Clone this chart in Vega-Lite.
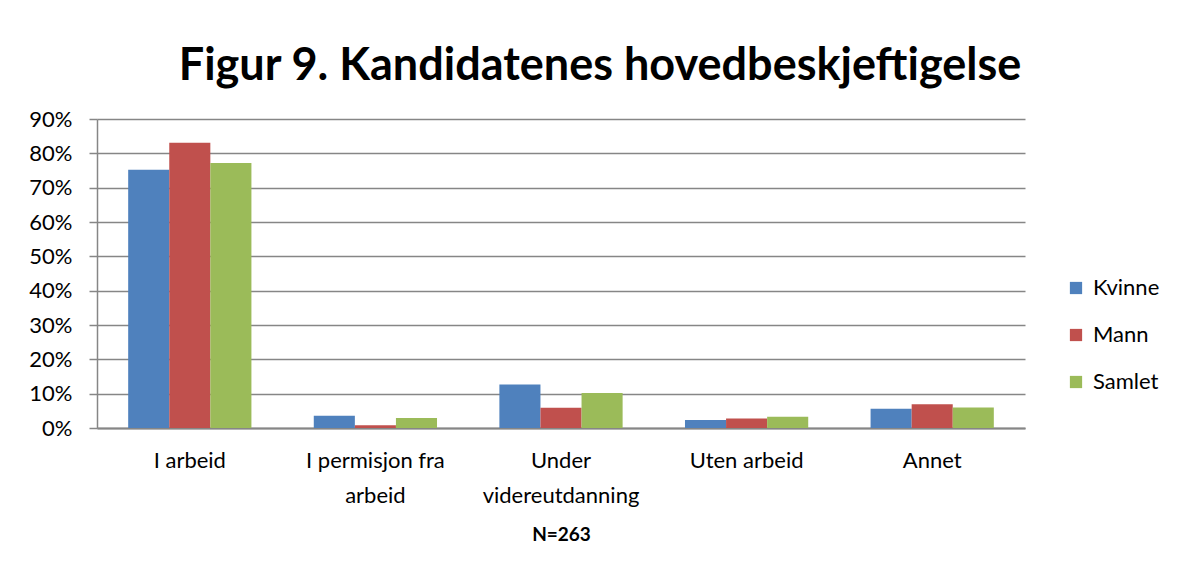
{
  "$schema": "https://vega.github.io/schema/vega-lite/v6.json",
  "width": 928,
  "height": 309,
  "autosize": "none",
  "padding": {"left": 97, "top": 119, "right": 158, "bottom": 150},
  "background": "white",
  "title": {
    "text": "Figur 9. Kandidatenes hovedbeskjeftigelse",
    "font": "Lato",
    "fontSize": 45,
    "fontWeight": "bold",
    "color": "#000000",
    "anchor": "middle",
    "dx": 39,
    "offset": 19
  },
  "data": {
    "values": [
      {"kategori": "I arbeid", "gruppe": "Kvinne", "andel": 0.752},
      {"kategori": "I arbeid", "gruppe": "Mann", "andel": 0.831},
      {"kategori": "I arbeid", "gruppe": "Samlet", "andel": 0.772},
      {"kategori": "I permisjon fra arbeid", "gruppe": "Kvinne", "andel": 0.036},
      {"kategori": "I permisjon fra arbeid", "gruppe": "Mann", "andel": 0.008},
      {"kategori": "I permisjon fra arbeid", "gruppe": "Samlet", "andel": 0.029},
      {"kategori": "Under videreutdanning", "gruppe": "Kvinne", "andel": 0.127},
      {"kategori": "Under videreutdanning", "gruppe": "Mann", "andel": 0.059},
      {"kategori": "Under videreutdanning", "gruppe": "Samlet", "andel": 0.102},
      {"kategori": "Uten arbeid", "gruppe": "Kvinne", "andel": 0.023},
      {"kategori": "Uten arbeid", "gruppe": "Mann", "andel": 0.028},
      {"kategori": "Uten arbeid", "gruppe": "Samlet", "andel": 0.033},
      {"kategori": "Annet", "gruppe": "Kvinne", "andel": 0.056},
      {"kategori": "Annet", "gruppe": "Mann", "andel": 0.069},
      {"kategori": "Annet", "gruppe": "Samlet", "andel": 0.060}
    ]
  },
  "mark": {"type": "bar"},
  "encoding": {
    "x": {
      "field": "kategori",
      "type": "nominal",
      "sort": ["I arbeid", "I permisjon fra arbeid", "Under videreutdanning", "Uten arbeid", "Annet"],
      "scale": {"paddingInner": 0.336, "paddingOuter": 0.168},
      "axis": {
        "title": "N=263",
        "titleFont": "Lato",
        "titleFontSize": 19,
        "titleFontWeight": "bold",
        "titleColor": "#000000",
        "titlePadding": 19,
        "labelAngle": 0,
        "labelFont": "Lato",
        "labelFontSize": 22,
        "labelColor": "#000000",
        "labelPadding": 22,
        "labelLineHeight": 35,
        "labelExpr": "datum.value == 'I permisjon fra arbeid' ? ['I permisjon fra', 'arbeid'] : datum.value == 'Under videreutdanning' ? ['Under', 'videreutdanning'] : datum.value",
        "ticks": false,
        "domainColor": "#868686",
        "domainWidth": 2
      }
    },
    "xOffset": {"field": "gruppe", "type": "nominal", "sort": ["Kvinne", "Mann", "Samlet"], "scale": {"paddingInner": 0, "paddingOuter": 0}},
    "y": {
      "field": "andel",
      "type": "quantitative",
      "scale": {"domain": [0, 0.9], "nice": false},
      "axis": {
        "title": null,
        "format": ".0%",
        "values": [0, 0.1, 0.2, 0.3, 0.4, 0.5, 0.6, 0.7, 0.8, 0.9],
        "labelFont": "Lato",
        "labelFontSize": 22,
        "labelColor": "#000000",
        "labelPadding": 17,
        "tickSize": 8,
        "tickColor": "#868686",
        "tickWidth": 1.5,
        "domainColor": "#868686",
        "domainWidth": 1.5,
        "grid": true,
        "gridColor": "#868686",
        "gridWidth": 1.5
      }
    },
    "color": {
      "field": "gruppe",
      "type": "nominal",
      "sort": ["Kvinne", "Mann", "Samlet"],
      "scale": {"domain": ["Kvinne", "Mann", "Samlet"], "range": ["#4f81bd", "#c0504d", "#9bbb59"]},
      "legend": {
        "title": null,
        "orient": "none",
        "legendX": 968,
        "legendY": 158,
        "symbolType": "square",
        "symbolSize": 150,
        "symbolStrokeWidth": 0,
        "labelFont": "Lato",
        "labelFontSize": 22,
        "labelColor": "#000000",
        "labelOffset": 6,
        "rowPadding": 25,
        "padding": 0
      }
    }
  },
  "config": {
    "view": {"stroke": null}
  }
}
